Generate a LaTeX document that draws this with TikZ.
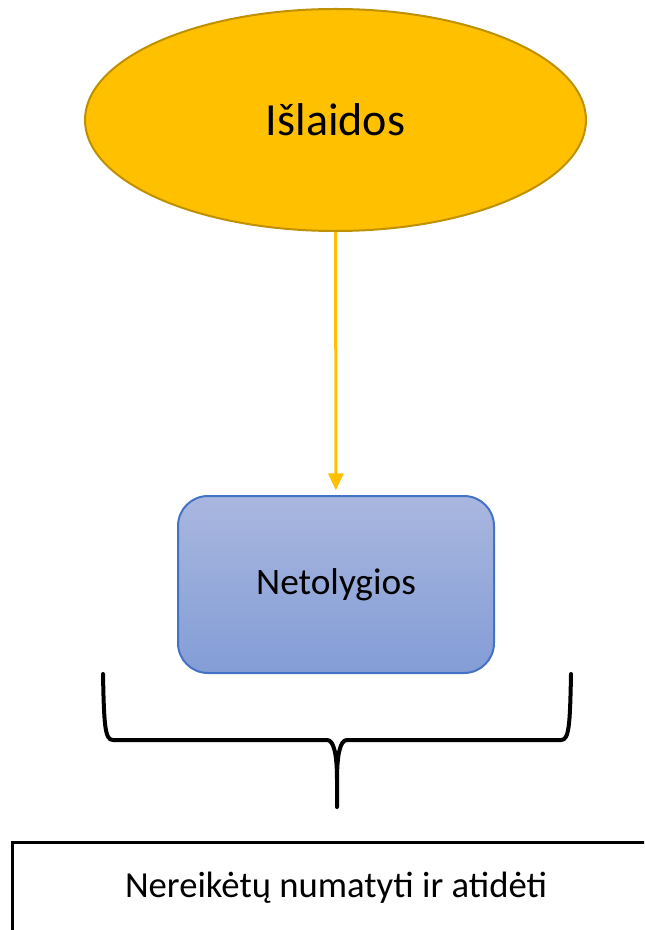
\documentclass[tikz,border=0pt]{standalone}
\usepackage{fontspec}
\setmainfont{Carlito}
\usetikzlibrary{arrows.meta,positioning,shapes.geometric}
\definecolor{gold}{RGB}{255,192,0}
\definecolor{goldline}{RGB}{191,144,0}
\definecolor{bluetop}{RGB}{169,183,223}
\definecolor{bluebot}{RGB}{131,157,214}
\definecolor{blueline}{RGB}{68,114,196}
\definecolor{ink}{RGB}{0,0,0}
\tikzset{
  >={Triangle[length=12.75pt,width=11.25pt]},
  oval/.style={ellipse,draw=goldline,fill=gold,line width=1.5pt,inner sep=0pt,
    minimum width=375.75pt,minimum height=166.5pt,font=\fontsize{34.5}{38}\selectfont},
  kindbox/.style={draw=blueline,line width=1.5pt,rounded corners=22.5pt,
    top color=bluetop,bottom color=bluebot,inner sep=0pt,
    minimum width=237pt,minimum height=132.75pt,font=\fontsize{28}{32}\selectfont},
  notebox/.style={draw=ink,line width=2.25pt,fill=white,inner sep=0pt,
    minimum width=486pt,minimum height=69pt,font=\fontsize{27.5}{31}\selectfont},
  flow/.style={->,line width=2.25pt,draw=#1,shorten >=3.5pt},
  flow/.default=gold,
  curly/.style={draw=ink,line width=3pt,line join=round,line cap=round},
}
\begin{document}
\begin{tikzpicture}[x=0.75pt,y=-0.75pt]
  \useasboundingbox (0,0) rectangle (644,930);
  \clip (0,0) rectangle (644,930);
  \node[oval] (cost) at (335.5,120) {Išlaidos};
  \node[kindbox] (kind) at (336,584.5) {Netolygios};
  \node[notebox] (note) at (336,888) {Nereikėtų numatyti ir atidėti};
  \draw[flow] (cost) -- (kind);
  % brace under the box
  \draw[curly] (103,674) .. controls (104,726) and (105,740) .. (113,740) -- (327,740)
    .. controls (334,740) and (337,755) .. (337,780) -- (337,807)
    (337,780) .. controls (337,755) and (340,740) .. (347,740) -- (561,740)
    .. controls (569,740) and (570,726) .. (571,674);
\end{tikzpicture}
\end{document}
